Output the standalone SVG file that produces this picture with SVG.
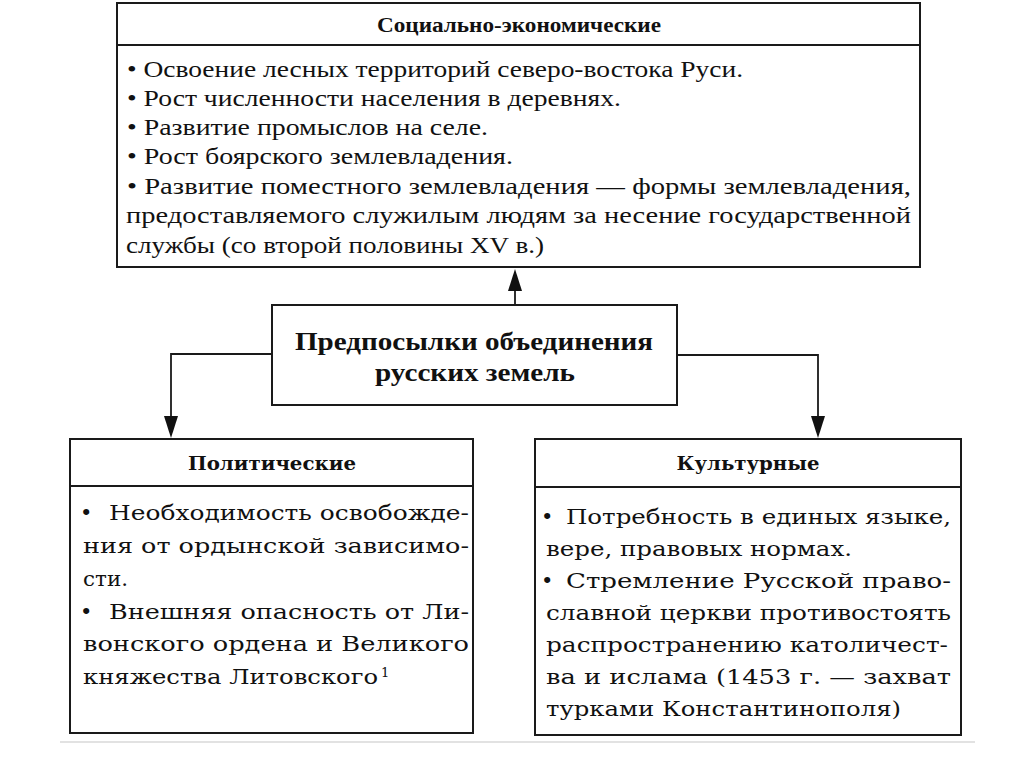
<svg xmlns="http://www.w3.org/2000/svg" width="1024" height="767" viewBox="0 0 1024 767">
<style>
.box{fill:#fff;stroke:#1a1a1a;stroke-width:2}
.div{stroke:#1a1a1a;stroke-width:2}
.conn{fill:none;stroke:#1a1a1a;stroke-width:1.8}
.t1{font-family:"Liberation Serif","Times New Roman",serif;font-size:23px;fill:#111}
.h1{font-family:"Liberation Serif","Times New Roman",serif;font-size:20px;font-weight:bold;fill:#111}
.c1{font-family:"Liberation Serif","Times New Roman",serif;font-size:26px;font-weight:bold;fill:#111}
.t2{font-family:"DejaVu Serif",serif;font-size:21px;fill:#111}
.h2{font-family:"DejaVu Serif",serif;font-size:19px;font-weight:bold;fill:#111}
.sup{font-family:"DejaVu Serif",serif;font-size:13px;fill:#111}
</style>
<defs>
<marker id="arr" viewBox="0 0 22 14" refX="16" refY="7" markerWidth="22" markerHeight="14" markerUnits="userSpaceOnUse" orient="auto">
<path d="M0,0 L22,7 L0,14 z" fill="#111"/>
</marker>
</defs>
<rect width="1024" height="767" fill="#fff"/>
<line x1="60" y1="742" x2="975" y2="742" stroke="#e2e2e2" stroke-width="2"/>

<g id="connectors">
<path class="conn" d="M515,305 L515,275" marker-end="url(#arr)"/>
<path class="conn" d="M272,354 L171,354 L171,432" marker-end="url(#arr)"/>
<path class="conn" d="M677,355 L818,355 L818,432" marker-end="url(#arr)"/>
</g>

<g id="socio-economic">
<rect class="box" x="117" y="3" width="803" height="264"/>
<line class="div" x1="117" y1="45" x2="920" y2="45"/>
<text class="h1" x="519" y="32" text-anchor="middle" textLength="284" lengthAdjust="spacingAndGlyphs">Социально-экономические</text>
<text class="t1" x="127" y="77" textLength="616" lengthAdjust="spacingAndGlyphs">• Освоение лесных территорий северо-востока Руси.</text>
<text class="t1" x="127" y="106" textLength="494" lengthAdjust="spacingAndGlyphs">• Рост численности населения в деревнях.</text>
<text class="t1" x="127" y="135" textLength="361" lengthAdjust="spacingAndGlyphs">• Развитие промыслов на селе.</text>
<text class="t1" x="127" y="164" textLength="386" lengthAdjust="spacingAndGlyphs">• Рост боярского землевладения.</text>
<text class="t1" x="127" y="194" textLength="784" lengthAdjust="spacingAndGlyphs">•  Развитие поместного землевладения — формы землевладения,</text>
<text class="t1" x="126" y="223" textLength="785" lengthAdjust="spacingAndGlyphs">предоставляемого служилым людям за несение государственной</text>
<text class="t1" x="126" y="253" textLength="418" lengthAdjust="spacingAndGlyphs">службы (со второй половины XV в.)</text>
</g>

<g id="prerequisites">
<rect class="box" x="272" y="305" width="405" height="100"/>
<text class="c1" x="474" y="350" text-anchor="middle" textLength="358" lengthAdjust="spacingAndGlyphs">Предпосылки объединения</text>
<text class="c1" x="475" y="381" text-anchor="middle" textLength="200" lengthAdjust="spacingAndGlyphs">русских земель</text>
</g>

<g id="political">
<rect class="box" x="70" y="439" width="403" height="294"/>
<line class="div" x1="70" y1="486" x2="473" y2="486"/>
<text class="h2" x="272" y="470" text-anchor="middle" textLength="168" lengthAdjust="spacingAndGlyphs">Политические</text>
<text class="t2" x="80" y="520">•</text>
<text class="t2" x="109" y="520" textLength="360" lengthAdjust="spacingAndGlyphs">Необходимость освобожде-</text>
<text class="t2" x="83" y="553" textLength="386" lengthAdjust="spacingAndGlyphs">ния от ордынской зависимо-</text>
<text class="t2" x="83" y="586" textLength="45" lengthAdjust="spacingAndGlyphs">сти.</text>
<text class="t2" x="80" y="619">•</text>
<text class="t2" x="109" y="619" textLength="360" lengthAdjust="spacingAndGlyphs">Внешняя опасность от Ли-</text>
<text class="t2" x="83" y="651" textLength="386" lengthAdjust="spacingAndGlyphs">вонского ордена и Великого</text>
<text class="t2" x="83" y="684" textLength="295" lengthAdjust="spacingAndGlyphs">княжества Литовского</text>
<text class="sup" x="381" y="677">1</text>
</g>

<g id="cultural">
<rect class="box" x="535" y="439" width="426" height="296"/>
<line class="div" x1="535" y1="487" x2="961" y2="487"/>
<text class="h2" x="748" y="470" text-anchor="middle" textLength="143" lengthAdjust="spacingAndGlyphs">Культурные</text>
<text class="t2" x="541" y="524">•</text>
<text class="t2" x="566" y="524" textLength="385" lengthAdjust="spacingAndGlyphs">Потребность в единых языке,</text>
<text class="t2" x="546" y="556" textLength="306" lengthAdjust="spacingAndGlyphs">вере, правовых нормах.</text>
<text class="t2" x="541" y="588">•</text>
<text class="t2" x="566" y="588" textLength="385" lengthAdjust="spacingAndGlyphs">Стремление  Русской  право-</text>
<text class="t2" x="546" y="620" textLength="405" lengthAdjust="spacingAndGlyphs">славной церкви противостоять</text>
<text class="t2" x="546" y="652" textLength="402" lengthAdjust="spacingAndGlyphs">распространению  католичест-</text>
<text class="t2" x="546" y="684" textLength="405" lengthAdjust="spacingAndGlyphs">ва и ислама (1453 г. — захват</text>
<text class="t2" x="546" y="716" textLength="355" lengthAdjust="spacingAndGlyphs">турками Константинополя)</text>
</g>
</svg>
